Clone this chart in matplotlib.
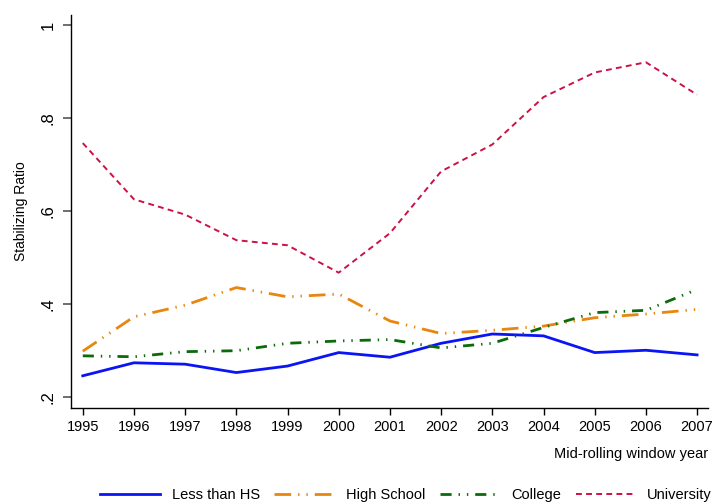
import matplotlib
matplotlib.use("Agg")
import matplotlib.pyplot as plt

plt.rcParams['font.family'] = ['Liberation Sans', 'DejaVu Sans']

years = [1995, 1996, 1997, 1998, 1999, 2000, 2001, 2002, 2003, 2004, 2005, 2006, 2007]
less_hs = [0.245, 0.273, 0.270, 0.252, 0.266, 0.295, 0.285, 0.315, 0.335, 0.331, 0.295, 0.300, 0.290]
high_school = [0.298, 0.372, 0.397, 0.435, 0.415, 0.421, 0.363, 0.336, 0.343, 0.352, 0.370, 0.378, 0.388]
college = [0.288, 0.286, 0.297, 0.299, 0.315, 0.320, 0.323, 0.305, 0.315, 0.349, 0.381, 0.386, 0.431]
university = [0.746, 0.625, 0.592, 0.537, 0.526, 0.467, 0.552, 0.685, 0.743, 0.845, 0.898, 0.920, 0.850]

yticks = [0.2, 0.4, 0.6, 0.8, 1.0]
ytick_labels = ['.2', '.4', '.6', '.8', '1']

fig = plt.figure(figsize=(7.15, 5.04), dpi=100)
ax = fig.add_axes([0.0993, 0.1905, 0.8907, 0.7795])

ax.plot(years, less_hs, color='#0a14f5', lw=2.0, ls='-', label='Less than HS')
ax.plot(years, high_school, color='#e8860f', lw=2.0, ls=(0, (6, 2.5, 0.5, 2.5, 0.5, 2.5)), label='High School')
ax.plot(years, college, color='#0b6b0b', lw=2.0, ls=(0, (4, 2.5, 0.5, 2.5, 0.5, 2.5)), label='College')
ax.plot(years, university, color='#cc1146', lw=1.4, ls=(0, (3, 2.2)), label='University')

ax.set_xlim(1994.77, 2007.21)
ax.set_ylim(0.1757, 1.0215)
ax.set_xticks(years)
ax.set_xticklabels([str(y) for y in years], fontsize=10.5)
ax.set_yticks(yticks)
ax.set_yticklabels(ytick_labels, fontsize=12, rotation=90, va='center')

for s in ['top', 'right']:
    ax.spines[s].set_visible(False)
ax.spines['left'].set_linewidth(1.0)
ax.spines['bottom'].set_linewidth(1.0)
ax.tick_params(axis='y', length=6, width=1.2, color='#555555', pad=5)
ax.tick_params(axis='x', length=5, width=1.0, pad=4)

ax.set_ylabel('Stabilizing Ratio', fontsize=10, labelpad=9)
fig.text(0.99, 0.1, 'Mid-rolling window year', ha='right', va='center', fontsize=10.5)

fig.legend(loc='center', bbox_to_anchor=(0.568, 0.018), ncol=4, frameon=False,
           fontsize=10.5, handlelength=4.1, columnspacing=1.0, handletextpad=0.8,
           borderpad=0.2)

fig.savefig('out.png', dpi=100)
